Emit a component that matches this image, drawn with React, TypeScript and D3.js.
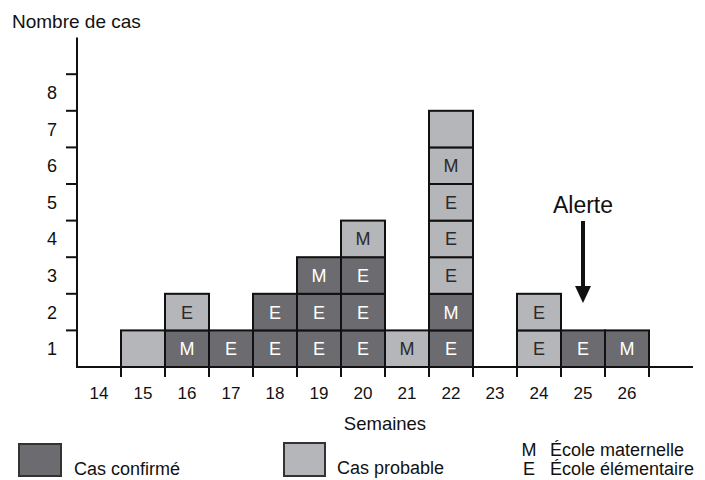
import React from "react";
import * as d3 from "d3";

// Week labels on the x axis
const weekLabels = [14, 15, 16, 17, 18, 19, 20, 21, 22, 23, 24, 25, 26];
// Y tick labels
const yLabels = [1, 2, 3, 4, 5, 6, 7, 8];
// Stacked cases per week, bottom to top: status (C = confirmé, P = probable) + school (M / E / "")
const caseWeeks = [15, 16, 17, 18, 19, 20, 21, 22, 24, 25, 26];
const caseStatus = [
  ["P"],
  ["C", "P"],
  ["C"],
  ["C", "C"],
  ["C", "C", "C"],
  ["C", "C", "C", "P"],
  ["P"],
  ["C", "C", "P", "P", "P", "P", "P"],
  ["P", "P"],
  ["C"],
  ["C"],
];
const caseSchool = [
  [""],
  ["M", "E"],
  ["E"],
  ["E", "E"],
  ["E", "E", "M"],
  ["E", "E", "E", "M"],
  ["M"],
  ["E", "M", "E", "E", "E", "M", ""],
  ["E", "E"],
  ["E"],
  ["M"],
];
const alertWeek = 25;
const alertLabel = "Alerte";

const DARK = "#6c6c70";
const LIGHT = "#b5b6b9";
const FONT = "'Liberation Sans', Arial, sans-serif";

export default function App() {
  const x = d3.scaleLinear().domain([14, 28]).range([77, 693]);
  const y = d3.scaleLinear().domain([0, 9]).range([367, 37.6]);
  const w = x(15) - x(14);

  const cells: React.ReactNode[] = [];
  caseWeeks.forEach((wk, i) => {
    caseStatus[i].forEach((st, j) => {
      const x0 = x(wk);
      const y0 = y(j + 1);
      const h = y(j) - y(j + 1);
      const fill = st === "C" ? DARK : LIGHT;
      cells.push(
        <g key={`${wk}-${j}`}>
          <rect x={x0} y={y0} width={w} height={h} fill={fill} stroke="#111" strokeWidth={2} />
          {caseSchool[i][j] && (
            <text
              x={x0 + w / 2}
              y={y0 + h / 2}
              dy="0.36em"
              textAnchor="middle"
              fontSize={18}
              fill={st === "C" ? "#ffffff" : "#2a2a2a"}
            >
              {caseSchool[i][j]}
            </text>
          )}
        </g>
      );
    });
  });

  const ax = x(alertWeek + 0.5);

  return (
    <svg
      width={705}
      height={480}
      style={{ position: "fixed", top: 0, left: 0, background: "#fff" }}
      fontFamily={FONT}
    >
      <text x={12} y={28} fontSize={19} fill="#111">Nombre de cas</text>

      {cells}

      {/* Y axis */}
      <line x1={x(14)} x2={x(14)} y1={y(9)} y2={y(0)} stroke="#111" strokeWidth={2} />
      {d3.range(1, 9).map((v) => (
        <line key={v} x1={x(14) - 11} x2={x(14)} y1={y(v)} y2={y(v)} stroke="#111" strokeWidth={2} />
      ))}
      {yLabels.map((v) => (
        <text key={v} x={52} y={y(v - 0.5)} dy="0.36em" textAnchor="middle" fontSize={18} fill="#111">
          {v}
        </text>
      ))}

      {/* X axis */}
      <line x1={x(14) - 1} x2={x(28)} y1={y(0)} y2={y(0)} stroke="#111" strokeWidth={2} />
      {d3.range(15, 28).map((v) => (
        <line key={v} x1={x(v)} x2={x(v)} y1={y(0)} y2={y(0) + 10} stroke="#111" strokeWidth={2} />
      ))}
      {weekLabels.map((v) => (
        <text key={v} x={x(v + 0.5)} y={393} dy="0.36em" textAnchor="middle" fontSize={17} fill="#111">
          {v}
        </text>
      ))}
      <text x={(x(14) + x(28)) / 2} y={423} dy="0.36em" textAnchor="middle" fontSize={18.5} fill="#111">
        Semaines
      </text>

      {/* Alert */}
      <text x={ax} y={213} textAnchor="middle" fontSize={23} fill="#111">{alertLabel}</text>
      <line x1={ax} x2={ax} y1={221} y2={290} stroke="#111" strokeWidth={4} />
      <path d={`M${ax - 8},${286} L${ax + 8},${286} L${ax},${303} Z`} fill="#111" />

      {/* Legend */}
      <rect x={19} y={444} width={42} height={32} fill={DARK} stroke="#333" strokeWidth={2} />
      <text x={74} y={475} fontSize={18} fill="#111">Cas confirmé</text>
      <rect x={284} y={443} width={41} height={33} fill={LIGHT} stroke="#333" strokeWidth={2} />
      <text x={337} y={474} fontSize={18} fill="#111">Cas probable</text>
      <text x={529} y={456} textAnchor="middle" fontSize={18} fill="#111">M</text>
      <text x={550} y={456} fontSize={18} fill="#111">École maternelle</text>
      <text x={529} y={475} textAnchor="middle" fontSize={18} fill="#111">E</text>
      <text x={550} y={475} fontSize={18} fill="#111">École élémentaire</text>
    </svg>
  );
}
